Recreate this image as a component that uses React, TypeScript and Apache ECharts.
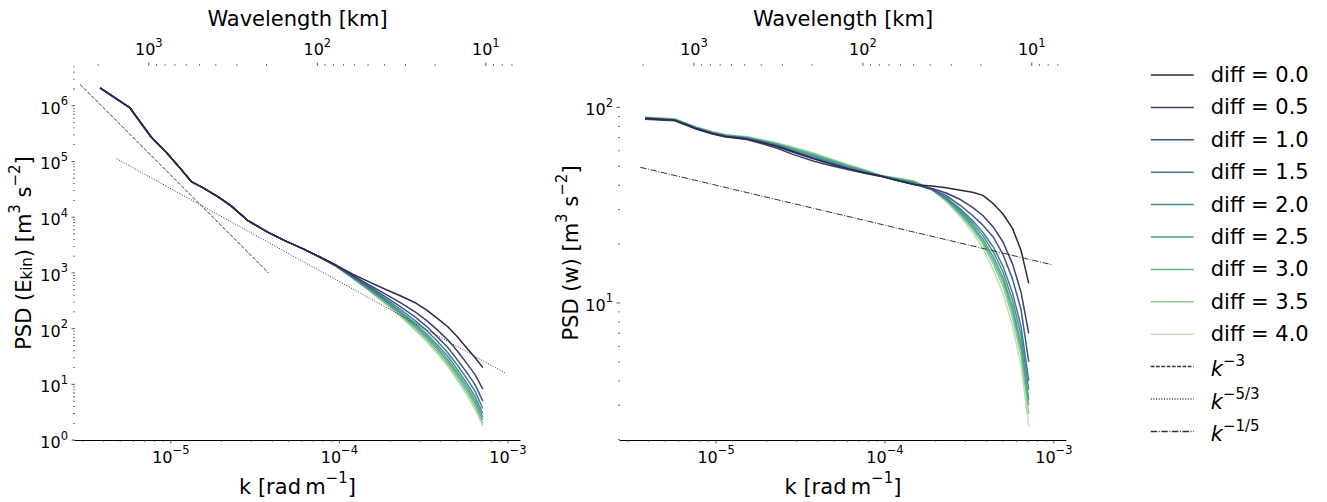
import React, { useEffect, useRef } from 'react';
import * as echarts from 'echarts';

// ---------------- data ----------------
const DIFF_LABELS = ['0.0', '0.5', '1.0', '1.5', '2.0', '2.5', '3.0', '3.5', '4.0'];
const COLORS = ['#2b2848', '#3e3d6e', '#3b5894', '#4c7892', '#468d95', '#4ca291', '#5ab585', '#8dca92', '#bcdfb2'];

// wavenumber grid [rad m^-1]
const K_HEAD = [3.8e-6, 5.7e-6, 7.6e-6, 9.5e-6, 1.14e-5, 1.33e-5, 1.52e-5, 1.9e-5, 2.28e-5, 2.85e-5, 3.8e-5, 4.75e-5, 6.1e-5, 7.6e-5];
const K_TAIL = [9.5e-5, 1.2e-4, 1.5e-4, 1.9e-4, 2.3e-4, 2.8e-4, 3.3e-4, 3.8e-4, 4.4e-4, 5.0e-4, 5.7e-4, 6.4e-4, 7.1e-4];

// PSD (E_kin), low-k part shared by all runs
const EKIN_HEAD = [2.1e6, 9.3e5, 2.8e5, 1.4e5, 7.5e4, 4.3e4, 3.5e4, 2.35e4, 1.6e4, 8.8e3, 5.3e3, 3.8e3, 2.7e3, 1.95e3];
const EKIN_TAIL_00 = [1400, 950, 690, 500, 390, 295, 215, 155, 108, 72, 45, 30, 20];
const EKIN_TAIL_05 = [1375, 900, 612, 408, 294, 203, 139, 96, 63, 40, 23.8, 14.8, 8.2];
const EKIN_TAIL_10 = [1365, 870, 571, 363, 249, 164, 109, 72, 46, 28, 16.4, 9.8, 5.0];
const EKIN_TAIL_15 = [1355, 850, 545, 335, 223, 141, 92, 60, 37, 22.4, 12.8, 7.4, 3.7];
const EKIN_TAIL_20 = [1345, 835, 525, 315, 204, 126, 80, 52, 32, 18.8, 10.5, 6.0, 3.0];
const EKIN_TAIL_25 = [1340, 825, 512, 301, 192, 117, 73, 47, 28, 16.6, 9.2, 5.15, 2.6];
const EKIN_TAIL_30 = [1340, 815, 501, 290, 183, 109, 68, 43, 25.5, 14.9, 8.2, 4.5, 2.3];
const EKIN_TAIL_35 = [1335, 810, 490, 280, 173, 102, 63, 39, 23, 13.4, 7.3, 4.0, 2.0];
const EKIN_TAIL_40 = [1330, 800, 480, 270, 165, 95, 58, 36, 21, 12, 6.5, 3.5, 1.8];
const EKIN_TAILS = [EKIN_TAIL_00, EKIN_TAIL_05, EKIN_TAIL_10, EKIN_TAIL_15, EKIN_TAIL_20, EKIN_TAIL_25, EKIN_TAIL_30, EKIN_TAIL_35, EKIN_TAIL_40];

// PSD (w)
const W_HEAD_00 = [88, 86, 78, 73.5, 71, 70, 69, 66, 63.5, 59.5, 54.7, 51.5, 48.5, 46.3];
const W_HEAD_05 = [87, 85.5, 77.5, 73, 70.5, 69.5, 68.5, 65, 62, 57.5, 53, 50.5, 48, 46];
const W_HEAD_10 = [87.5, 86, 78, 73.5, 71, 70, 69, 66, 63, 59, 54.5, 51.5, 48.5, 46.2];
const W_HEAD_15 = [88, 86, 78.5, 74, 71.5, 70.5, 69.5, 66.5, 63.8, 59.8, 55.2, 52.2, 49, 46.5];
const W_HEAD_20 = [88, 86.5, 78.5, 74, 71.5, 70.5, 69.8, 66.8, 64.2, 60.5, 56, 52.6, 49.3, 46.8];
const W_HEAD_25 = [88.5, 86.5, 79, 74.5, 72, 71, 70, 67.2, 64.8, 61.2, 56.6, 53.2, 49.8, 47.2];
const W_HEAD_30 = [88.5, 87, 79, 74.5, 72, 71, 70.3, 67.5, 65.2, 61.7, 57.3, 53.8, 50.2, 47.5];
const W_HEAD_35 = [89, 87, 79.5, 75, 72.5, 71.5, 70.6, 67.8, 65.6, 62.3, 58, 54.2, 50.6, 47.7];
const W_HEAD_40 = [89, 87.5, 79.5, 75, 72.5, 71.5, 71, 68.2, 66, 62.8, 58.5, 54.6, 51, 48];
const W_HEADS = [W_HEAD_00, W_HEAD_05, W_HEAD_10, W_HEAD_15, W_HEAD_20, W_HEAD_25, W_HEAD_30, W_HEAD_35, W_HEAD_40];

const W_TAIL_00 = [44.6, 42.2, 40.2, 39.6, 38.8, 37.7, 36.8, 35.5, 32.1, 28.5, 24, 18.5, 12.6];
const W_TAIL_05 = [44.3, 42.2, 40.3, 38.5, 36.5, 33.8, 30.8, 28, 24.3, 20.5, 15.8, 11.3, 7.0];
const W_TAIL_10 = [44.4, 42.3, 40.4, 38, 35.5, 31.5, 28, 25, 21.6, 17.7, 13.2, 9.2, 5.0];
const W_TAIL_15 = [44.5, 42.6, 40.8, 38, 34.7, 30.2, 26.4, 23.0, 19.2, 15.4, 11.2, 7.55, 4.0];
const W_TAIL_20 = [44.6, 42.8, 41.1, 38, 34.4, 29.6, 25.6, 22.1, 18.1, 14.4, 10.3, 6.84, 3.6];
const W_TAIL_25 = [44.6, 43.0, 41.3, 38, 34.0, 29.0, 24.9, 21.2, 17.1, 13.5, 9.5, 6.19, 3.2];
const W_TAIL_30 = [44.7, 43.1, 41.5, 38, 33.8, 28.6, 24.4, 20.6, 16.4, 12.9, 9.0, 5.79, 3.0];
const W_TAIL_35 = [44.7, 43.3, 41.7, 38, 33.5, 28.2, 23.8, 20.0, 15.7, 12.2, 8.4, 5.36, 2.7];
const W_TAIL_40 = [44.8, 43.5, 42, 38, 33, 27.5, 23, 19, 14.6, 11.2, 7.6, 4.75, 2.35];
const W_TAILS = [W_TAIL_00, W_TAIL_05, W_TAIL_10, W_TAIL_15, W_TAIL_20, W_TAIL_25, W_TAIL_30, W_TAIL_35, W_TAIL_40];

// reference power laws (end points)
const K3_X = [2.9e-6, 3.8e-5];
const K3_Y = [2.4e6, 1.0e3];
const K53_X = [4.77e-6, 9.6e-4];
const K53_Y = [1.12e5, 16.1];
const K15_X = [3.56e-6, 9.7e-4];
const K15_Y = [49.4, 15.7];

// axis ranges
const K_MIN = 2.7e-6;
const K_MAX = 1.18e-3;
const LAMBDA_MIN = 6.27;
const LAMBDA_MAX = 2741;
const EKIN_MIN = 1;
const EKIN_MAX = 5.19e6;
const W_MIN = 1.99;
const W_MAX = 163;

// ticks
const K_MAJOR = [1e-5, 1e-4, 1e-3];
const K_MINOR = [3e-6, 4e-6, 5e-6, 6e-6, 7e-6, 8e-6, 9e-6, 2e-5, 3e-5, 4e-5, 5e-5, 6e-5, 7e-5, 8e-5, 9e-5, 2e-4, 3e-4, 4e-4, 5e-4, 6e-4, 7e-4, 8e-4, 9e-4];
const LAMBDA_MAJOR = [1000, 100, 10];
const LAMBDA_MINOR = [7, 8, 9, 20, 30, 40, 50, 60, 70, 80, 90, 200, 300, 400, 500, 600, 700, 800, 900, 2000];
const EKIN_MAJOR = [1, 10, 100, 1e3, 1e4, 1e5, 1e6];
const EKIN_MINOR = [
  2, 3, 4, 5, 6, 7, 8, 9,
  20, 30, 40, 50, 60, 70, 80, 90,
  200, 300, 400, 500, 600, 700, 800, 900,
  2e3, 3e3, 4e3, 5e3, 6e3, 7e3, 8e3, 9e3,
  2e4, 3e4, 4e4, 5e4, 6e4, 7e4, 8e4, 9e4,
  2e5, 3e5, 4e5, 5e5, 6e5, 7e5, 8e5, 9e5,
  2e6, 3e6, 4e6, 5e6,
];
const W_MAJOR = [10, 100];
const W_MINOR = [2, 3, 4, 5, 6, 7, 8, 9, 20, 30, 40, 50, 60, 70, 80, 90];

// ---------------- styling ----------------
const FONT = 'DejaVu Sans';
const TICK = '#333333';

const labelRich = {
  b: { fontFamily: FONT, fontSize: 16, color: '#000', lineHeight: 21, verticalAlign: 'bottom' },
  s: { fontFamily: FONT, fontSize: 11.5, color: '#000', verticalAlign: 'top' },
};
const nameRich = {
  n: { fontFamily: FONT, fontSize: 21, color: '#000', lineHeight: 27, verticalAlign: 'bottom' },
  sup: { fontFamily: FONT, fontSize: 15, color: '#000', verticalAlign: 'top' },
  sub: { fontFamily: FONT, fontSize: 15, color: '#000', verticalAlign: 'bottom' },
};

function powLabel(v: number): string {
  const e = Math.log10(v);
  const r = Math.round(e);
  if (Math.abs(e - r) > 1e-6) return '';
  return `{b|10}{s|${r < 0 ? '\u2212' + -r : r}}`;
}

function bottomAxis(gridIndex: number) {
  return {
    type: 'log', logBase: 10, gridIndex, position: 'bottom', min: K_MIN, max: K_MAX,
    name: '{n|k [rad\u2009m}{sup|\u22121}{n|]}',
    nameLocation: 'middle', nameGap: 16,
    nameTextStyle: { rich: nameRich },
    axisLine: { show: true, onZero: false, lineStyle: { color: '#000', width: 1.2 } },
    axisTick: { show: false }, minorTick: { show: false }, splitLine: { show: false },
    axisLabel: { formatter: powLabel, rich: labelRich, margin: 4 },
  };
}
function topAxis(gridIndex: number) {
  return {
    type: 'log', logBase: 10, gridIndex, position: 'top', inverse: true, min: LAMBDA_MIN, max: LAMBDA_MAX,
    name: 'Wavelength [km]', nameLocation: 'middle', nameGap: 31,
    nameTextStyle: { fontFamily: FONT, fontSize: 21, color: '#000', lineHeight: 27 },
    axisLine: { show: false }, axisTick: { show: false }, minorTick: { show: false }, splitLine: { show: false },
    axisLabel: { formatter: powLabel, rich: labelRich, margin: 8 },
  };
}

function tickSeries(id: string, xi: number, yi: number, pts: number[][], size: number[], offset: number[]) {
  return {
    id, name: id, type: 'scatter', xAxisIndex: xi, yAxisIndex: yi, data: pts,
    symbol: 'rect', symbolSize: size, symbolOffset: offset,
    itemStyle: { color: TICK }, silent: true, clip: false, z: 4,
  };
}

function buildOption() {
  const K = [...K_HEAD, ...K_TAIL];
  const series: any[] = [];
  const lineStyle = (c: string) => ({ color: c, width: 1.5 });

  for (let i = DIFF_LABELS.length - 1; i >= 0; i--) {
    const vals = [...EKIN_HEAD, ...EKIN_TAILS[i]];
    series.push({
      name: `diff = ${DIFF_LABELS[i]}`, type: 'line', xAxisIndex: 0, yAxisIndex: 0,
      data: K.map((k, j) => [k, vals[j]]), symbol: 'none', showSymbol: false,
      color: COLORS[i], lineStyle: lineStyle(COLORS[i]), z: 2,
    });
  }
  for (let i = DIFF_LABELS.length - 1; i >= 0; i--) {
    const vals = [...W_HEADS[i], ...W_TAILS[i]];
    series.push({
      name: `diff = ${DIFF_LABELS[i]}`, type: 'line', xAxisIndex: 2, yAxisIndex: 1,
      data: K.map((k, j) => [k, vals[j]]), symbol: 'none', showSymbol: false,
      color: COLORS[i], lineStyle: lineStyle(COLORS[i]), z: 2,
    });
  }
  series.push({
    name: 'k^-3', type: 'line', xAxisIndex: 0, yAxisIndex: 0, symbol: 'none', z: 3,
    data: K3_X.map((k, j) => [k, K3_Y[j]]), color: '#333',
    lineStyle: { color: '#333', width: 1, type: [3.7, 1.6] },
  });
  series.push({
    name: 'k^-5/3', type: 'line', xAxisIndex: 0, yAxisIndex: 0, symbol: 'none', z: 3,
    data: K53_X.map((k, j) => [k, K53_Y[j]]), color: '#333',
    lineStyle: { color: '#333', width: 1, type: [1, 1.65] },
  });
  series.push({
    name: 'k^-1/5', type: 'line', xAxisIndex: 2, yAxisIndex: 1, symbol: 'none', z: 3,
    data: K15_X.map((k, j) => [k, K15_Y[j]]), color: '#333',
    lineStyle: { color: '#333', width: 1, type: [6.4, 1.6, 1, 1.6] },
  });

  // ticks: left panel
  series.push(tickSeries('tb0M', 0, 0, K_MAJOR.map((k) => [k, EKIN_MIN]), [1, 3.5], [0, 1.75]));
  series.push(tickSeries('tb0m', 0, 0, K_MINOR.map((k) => [k, EKIN_MIN]), [0.8, 2], [0, 1]));
  series.push(tickSeries('tt0M', 1, 0, LAMBDA_MAJOR.map((l) => [l, EKIN_MAX]), [1, 3.5], [0, -1.75]));
  series.push(tickSeries('tt0m', 1, 0, LAMBDA_MINOR.map((l) => [l, EKIN_MAX]), [0.8, 2], [0, -1]));
  series.push(tickSeries('ty0M', 0, 0, EKIN_MAJOR.map((v) => [K_MIN, v]), [3.5, 1], [-1.75, 0]));
  series.push(tickSeries('ty0m', 0, 0, EKIN_MINOR.map((v) => [K_MIN, v]), [2, 0.8], [-1, 0]));
  // ticks: right panel
  series.push(tickSeries('tb1M', 2, 1, K_MAJOR.map((k) => [k, W_MIN]), [1, 3.5], [0, 1.75]));
  series.push(tickSeries('tb1m', 2, 1, K_MINOR.map((k) => [k, W_MIN]), [0.8, 2], [0, 1]));
  series.push(tickSeries('tt1M', 3, 1, LAMBDA_MAJOR.map((l) => [l, W_MAX]), [1, 3.5], [0, -1.75]));
  series.push(tickSeries('tt1m', 3, 1, LAMBDA_MINOR.map((l) => [l, W_MAX]), [0.8, 2], [0, -1]));
  series.push(tickSeries('ty1M', 2, 1, W_MAJOR.map((v) => [K_MIN, v]), [3.5, 1], [-1.75, 0]));
  series.push(tickSeries('ty1m', 2, 1, W_MINOR.map((v) => [K_MIN, v]), [2, 0.8], [-1, 0]));

  const legendNames = [...DIFF_LABELS.map((d) => `diff = ${d}`), 'k^-3', 'k^-5/3', 'k^-1/5'];

  return {
    animation: false,
    backgroundColor: '#ffffff',
    grid: [
      { left: 75, top: 61, width: 445, height: 383 },
      { left: 620, top: 60, width: 446, height: 384 },
    ],
    xAxis: [bottomAxis(0), topAxis(0), bottomAxis(1), topAxis(1)],
    yAxis: [
      {
        type: 'log', logBase: 10, gridIndex: 0, min: EKIN_MIN, max: EKIN_MAX,
        name: '{n|PSD (E}{sub|kin}{n|) [m}{sup|3}{n| s}{sup|\u22122}{n|]}',
        nameLocation: 'middle', nameGap: 41, nameRotate: 90,
        nameTextStyle: { rich: nameRich },
        axisLine: { show: false }, axisTick: { show: false }, minorTick: { show: false }, splitLine: { show: false },
        axisLabel: { formatter: powLabel, rich: labelRich, margin: 7 },
      },
      {
        type: 'log', logBase: 10, gridIndex: 1, min: W_MIN, max: W_MAX,
        name: '{n|PSD (w) [m}{sup|3}{n| s}{sup|\u22122}{n|]}',
        nameLocation: 'middle', nameGap: 25, nameRotate: 90,
        nameTextStyle: { rich: nameRich },
        axisLine: { show: false }, axisTick: { show: false }, minorTick: { show: false }, splitLine: { show: false },
        axisLabel: { formatter: powLabel, rich: labelRich, margin: 7 },
      },
    ],
    legend: {
      data: legendNames,
      orient: 'vertical', left: 1145, top: 57,
      itemWidth: 43, itemHeight: 14, itemGap: 6.4,
      selectedMode: false,
      itemStyle: { opacity: 0 },
      lineStyle: { width: 1.5 },
      textStyle: {
        fontFamily: FONT, fontSize: 21, color: '#000', lineHeight: 26, padding: [0, 0, 0, 12],
        rich: {
          it: { fontFamily: FONT, fontSize: 21, fontStyle: 'italic', color: '#000', lineHeight: 26, verticalAlign: 'bottom' },
          sup: { fontFamily: FONT, fontSize: 15, color: '#000', verticalAlign: 'top' },
        },
      },
      formatter: (name: string) => {
        if (name.startsWith('k^')) {
          const exp = name.slice(2).replace('-', '\u2212');
          return `{it|k}{sup|${exp}}`;
        }
        return name;
      },
    },
    series,
  };
}

export default function App() {
  const ref = useRef<HTMLDivElement>(null);
  useEffect(() => {
    document.body.style.margin = '0';
    if (!ref.current) return;
    const chart = echarts.init(ref.current, undefined, { renderer: 'svg' });
    chart.setOption(buildOption() as any);
    return () => chart.dispose();
  }, []);
  return <div ref={ref} style={{ width: 1327, height: 502 }} />;
}
